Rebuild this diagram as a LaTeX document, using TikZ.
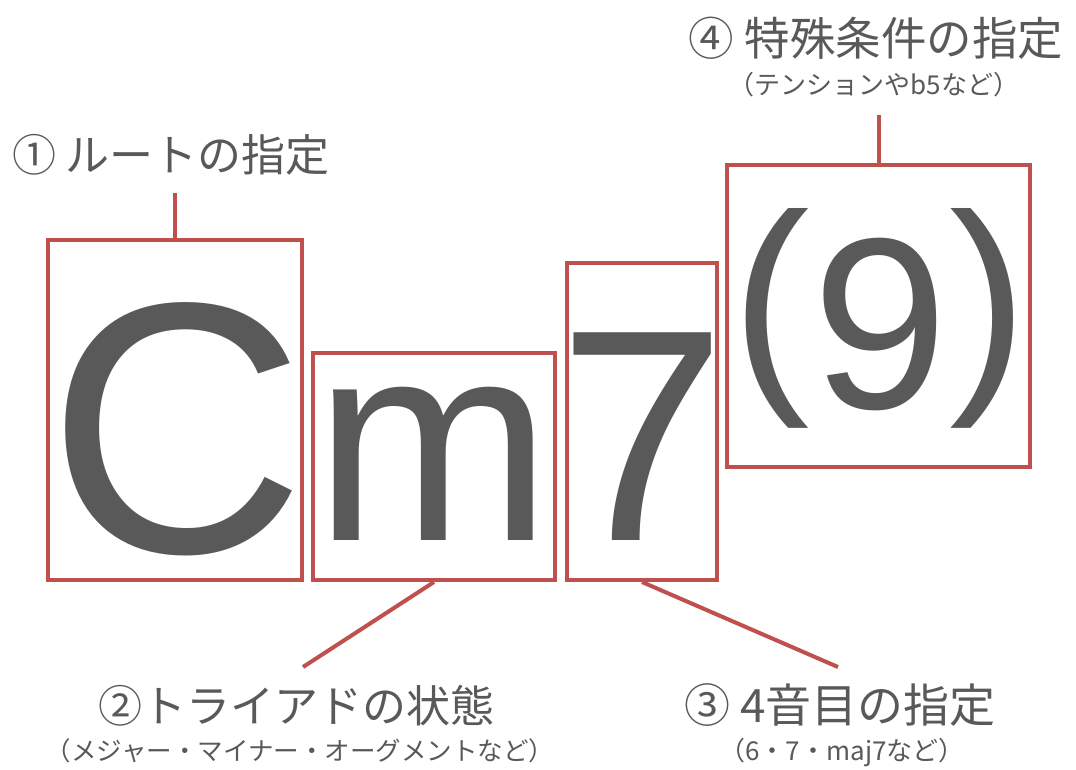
\documentclass[tikz,border=0pt]{standalone}
\usepackage{fontspec}
\setmainfont{Liberation Sans}
\newfontfamily\jpfont{Noto Sans CJK JP}
\usetikzlibrary{calc}

\definecolor{boxred}{HTML}{C0504D}
\definecolor{inkgray}{HTML}{595959}

\newcommand\bigparen[1]{\raisebox{29pt}{\fontsize{236}{236}\selectfont#1}}

\tikzset{
    chordbox/.style={draw=boxred, line width=4pt, inner sep=0pt},
    chordtext/.style={text=inkgray, inner sep=0pt, anchor=base},
    leader/.style={draw=boxred, line width=4pt},
    titletext/.style={text=inkgray, inner sep=0pt, anchor=base, font=\jpfont\fontsize{44}{44}\selectfont},
    subtext/.style={text=inkgray, inner sep=0pt, anchor=base, font=\jpfont\fontsize{26}{26}\selectfont},
}

\begin{document}
\begin{tikzpicture}[x=1pt, y=-1pt]

\useasboundingbox (0,0) rectangle (1076,769);

% boxes round the chord symbol
\node[chordbox, minimum width=254pt, minimum height=340pt] (root) at (175,410) {};
\node[chordbox, minimum width=242pt, minimum height=227pt] (triad) at (434,466.5) {};
\node[chordbox, minimum width=150pt, minimum height=317pt] (fourth) at (642,421.5) {};
\node[chordbox, minimum width=303pt, minimum height=302pt] (tension) at (878.5,316) {};

% the chord itself
\node[chordtext, font=\fontsize{358}{358}\selectfont] (cC) at (177,552) {C};
\node[chordtext, font=\fontsize{285}{285}\selectfont] (cm) at (433,540) {m};
\node[chordtext, font=\fontsize{302}{302}\selectfont] (c7) at (642,540) {7};
\node[chordtext, font=\fontsize{244}{244}\selectfont] (c9) at (880,408) {\bigparen{(}\kern2pt 9\kern2pt\bigparen{)}};

% labels
\node[titletext] (rootlbl) at (171,171) {① ルートの指定};
\node[titletext, font=\jpfont\fontsize{45.5}{45.5}\selectfont] (tensionlbl) at (876,55) {④ 特殊条件の指定};
\node[subtext] (tensionsub) at (874,94) {（テンションやb5など）};
\node[titletext] (triadlbl) at (296,722) {②トライアドの状態};
\node[subtext, font=\jpfont\fontsize{25.5}{25.5}\selectfont] (triadsub) at (300,760) {（メジャー・マイナー・オーグメントなど）};
\node[titletext, font=\jpfont\fontsize{46}{46}\selectfont] (fourthlbl) at (840,722) {③ 4音目の指定};
\node[subtext] (fourthsub) at (842,760) {（6・7・maj7など）};

% free ends of the leaders
\coordinate (rootend) at (root.north |- 0,193);
\coordinate (tensionend) at (tension.north |- 0,115);
\coordinate (triadend) at (303,667);
\coordinate (fourthend) at (838,667);

\foreach \from/\to in {root.north/rootend, tension.north/tensionend, triad.south/triadend, fourth.south/fourthend}
    \draw[leader] (\from) -- (\to);

\end{tikzpicture}
\end{document}
